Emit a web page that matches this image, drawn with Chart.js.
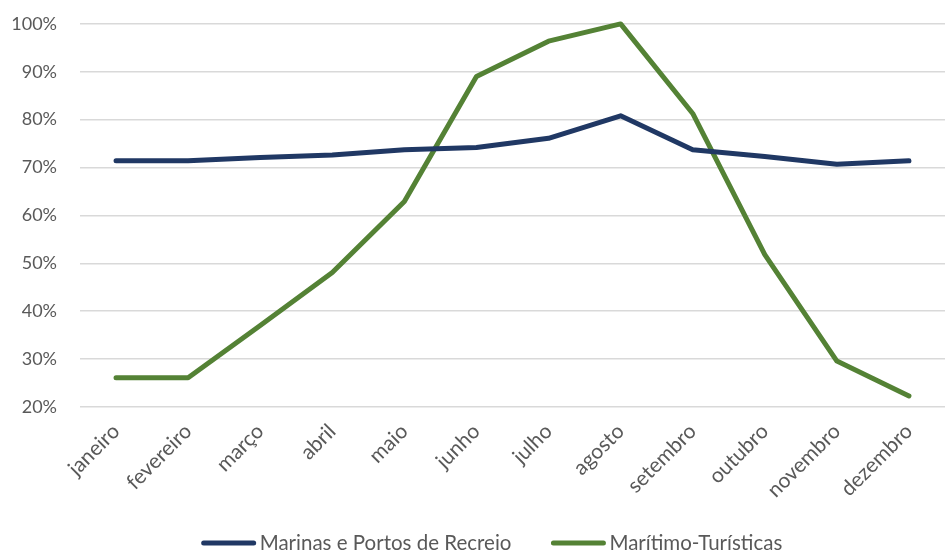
<!DOCTYPE html>
<html>
<head>
<meta charset="utf-8">
<script src="https://cdn.jsdelivr.net/npm/chart.js@4/dist/chart.umd.min.js"></script>
<style>
  html, body { margin: 0; padding: 0; background: #fff; }
  #wrap { width: 945px; height: 552px; }
</style>
</head>
<body>
<div id="wrap"><canvas id="chart" width="945" height="552"></canvas></div>
<script>
// 데이터 (그림에서 읽은 값, %)
const meses = ["janeiro", "fevereiro", "março", "abril", "maio", "junho",
               "julho", "agosto", "setembro", "outubro", "novembro", "dezembro"];
const marinas = [71.4, 71.4, 72.1, 72.6, 73.7, 74.2, 76.1, 80.8, 73.7, 72.3, 70.7, 71.4];
const maritimo = [26.1, 26.1, 37.0, 48.1, 62.9, 89.0, 96.4, 100.0, 81.3, 51.8, 29.6, 22.3];
const yTicks = [20, 30, 40, 50, 60, 70, 80, 90, 100];

const C = {
  navy:  "#203864",
  green: "#548235",
  grid:  "#d9d9d9",
  text:  "#595959",
};
const FONT = "Lato, 'Open Sans', sans-serif";

Chart.defaults.animation = false;
Chart.defaults.font.family = FONT;
Chart.defaults.color = C.text;

// 범례: 선 마커 + 글자 간격을 엑셀처럼 (기본 legend는 간격 조절이 안 됨)
const lineLegend = {
  id: "lineLegend",
  afterDraw(chart) {
    const { ctx } = chart;
    const boxW = 54, gap = 4, between = 40, cy = 543;
    ctx.save();
    ctx.font = "20.5px " + FONT;
    const items = chart.data.datasets.map((ds) => ({ ds, w: ctx.measureText(ds.label).width }));
    const total = items.reduce((s, it) => s + boxW + gap + it.w, 0) + between * (items.length - 1);
    let x = 492 - total / 2;
    items.forEach(({ ds, w }) => {
      ctx.strokeStyle = ds.borderColor;
      ctx.lineWidth = 5;
      ctx.lineCap = "round";
      ctx.beginPath();
      ctx.moveTo(x + 2, cy);
      ctx.lineTo(x + boxW - 2, cy);
      ctx.stroke();
      ctx.fillStyle = C.text;
      ctx.textBaseline = "middle";
      ctx.textAlign = "left";
      ctx.fillText(ds.label, x + boxW + gap, cy);
      x += boxW + gap + w + between;
    });
    ctx.restore();
  },
};

new Chart(document.getElementById("chart"), {
  type: "line",
  data: {
    labels: meses,
    datasets: [
      { label: "Marinas e Portos de Recreio", data: marinas, borderColor: C.navy, backgroundColor: C.navy,
        borderWidth: 5, pointRadius: 0, borderCapStyle: "round", borderJoinStyle: "round", clip: 6 },
      { label: "Marítimo-Turísticas", data: maritimo, borderColor: C.green, backgroundColor: C.green,
        borderWidth: 5, pointRadius: 0, borderCapStyle: "round", borderJoinStyle: "round", clip: 6 },
    ],
  },
  options: {
    responsive: false,
    maintainAspectRatio: false,
    layout: { padding: { top: 2, right: 0, left: 0, bottom: 45 } },
    plugins: {
      tooltip: { enabled: false },
      legend: { display: false },
    },
    scales: {
      x: {
        offset: true,
        grid: { display: false, drawTicks: false, offset: true },
        border: { display: false },
        ticks: { font: { size: 21 }, color: C.text, maxRotation: 45, minRotation: 45, padding: 12, autoSkip: false },
        afterFit: (s) => { s.height = 100; },
      },
      y: {
        min: 20, max: 100,
        afterBuildTicks: (s) => { s.ticks = yTicks.map((v) => ({ value: v })); },
        grid: { color: C.grid, lineWidth: 1.5, drawTicks: false },
        border: { display: false },
        // lineHeight를 작게 → 위쪽 여백이 padding 값만큼만 생김
        ticks: { font: { size: 18, lineHeight: 0.1 }, color: C.text, padding: 23, callback: (v) => v + "%" },
        afterFit: (s) => { s.width = 80; },
      },
    },
  },
  plugins: [lineLegend],
});
</script>
</body>
</html>
